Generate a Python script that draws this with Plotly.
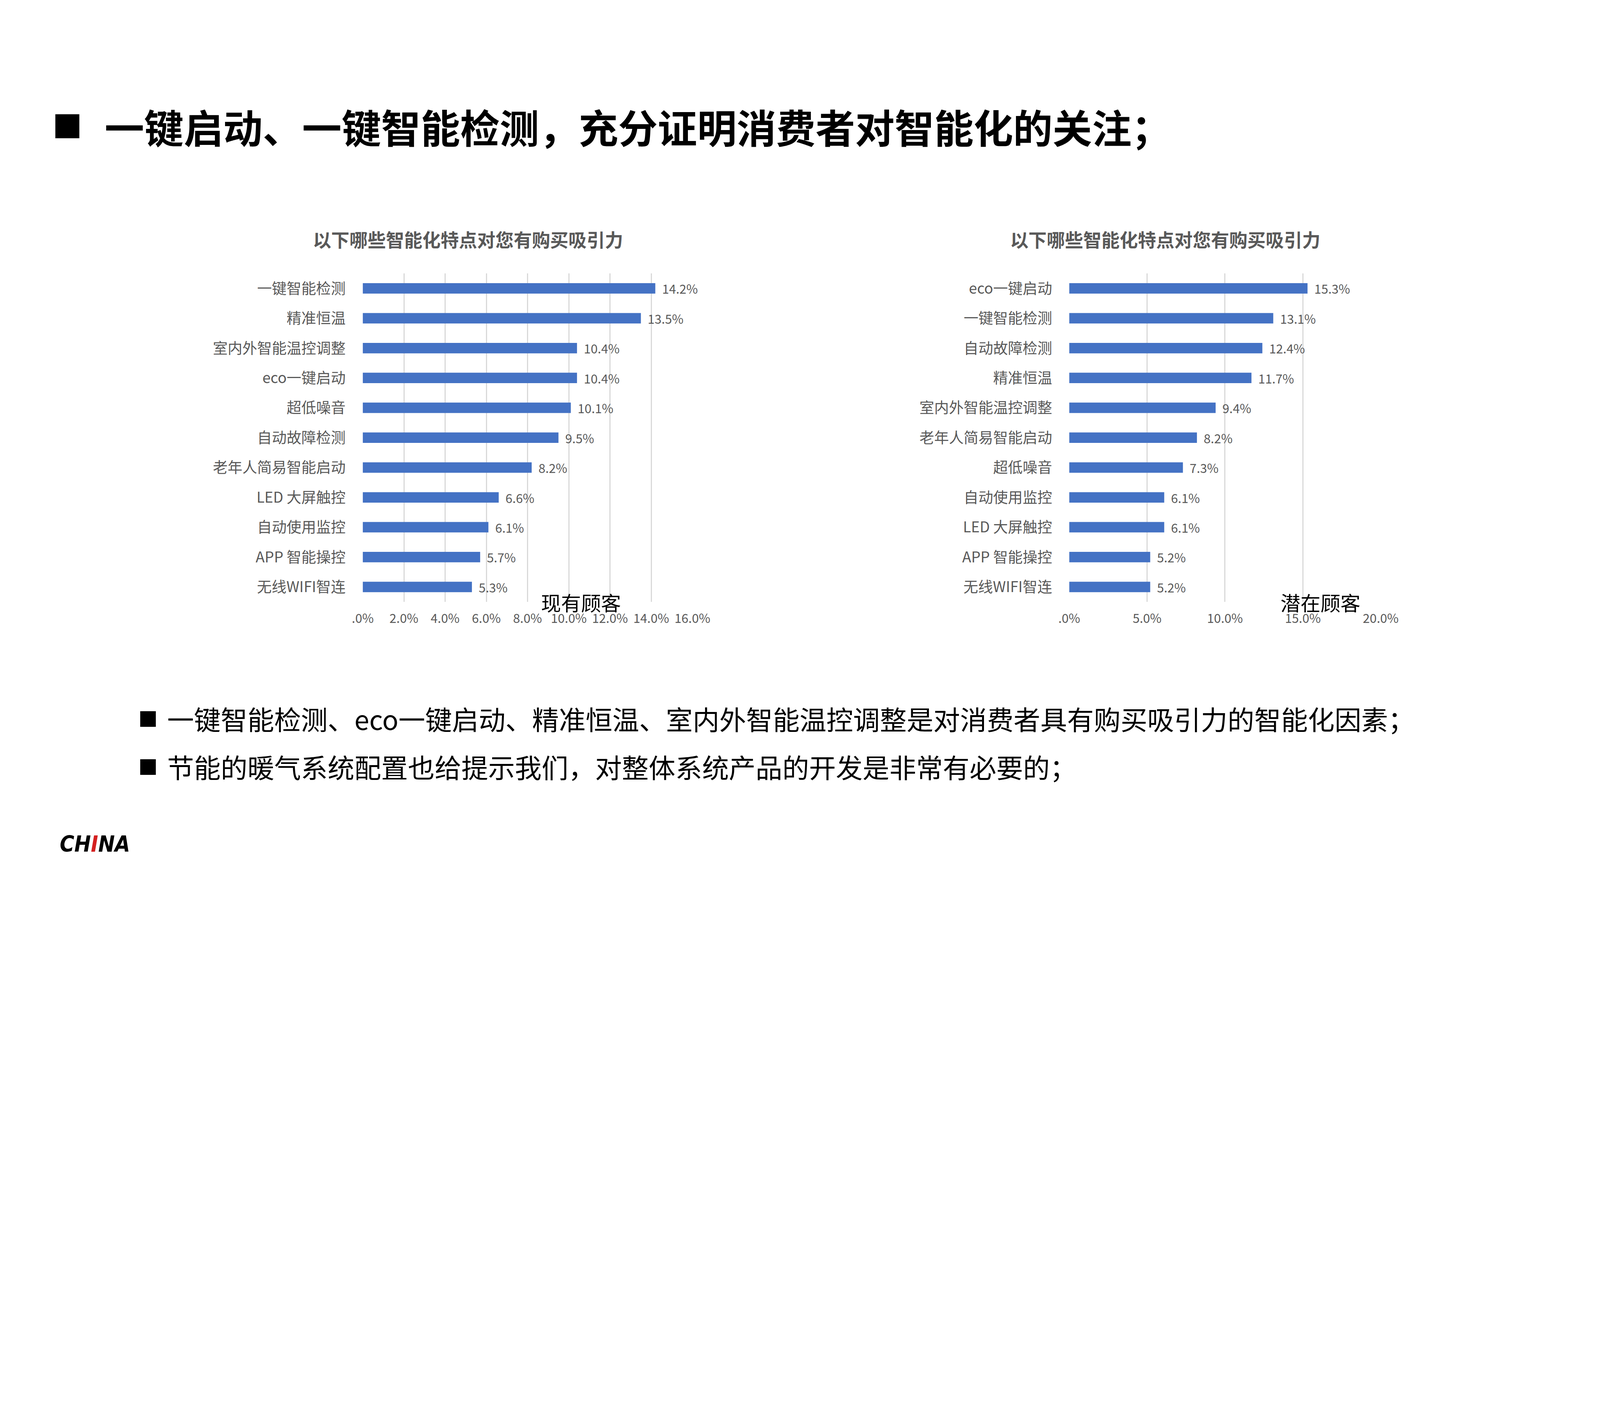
import plotly.graph_objects as go

# ---------------- data ----------------
left_categories = ["一键智能检测", "精准恒温", "室内外智能温控调整", "eco一键启动", "超低噪音",
                   "自动故障检测", "老年人简易智能启动", "LED 大屏触控", "自动使用监控",
                   "APP 智能操控", "无线WIFI智连"]
left_values = [0.142, 0.135, 0.104, 0.104, 0.101, 0.095, 0.082, 0.066, 0.061, 0.057, 0.053]
left_tickvals = [0, 0.02, 0.04, 0.06, 0.08, 0.10, 0.12, 0.14, 0.16]
left_ticktext = [".0%", "2.0%", "4.0%", "6.0%", "8.0%", "10.0%", "12.0%", "14.0%", "16.0%"]

right_categories = ["eco一键启动", "一键智能检测", "自动故障检测", "精准恒温", "室内外智能温控调整",
                    "老年人简易智能启动", "超低噪音", "自动使用监控", "LED 大屏触控",
                    "APP 智能操控", "无线WIFI智连"]
right_values = [0.153, 0.131, 0.124, 0.117, 0.094, 0.082, 0.073, 0.061, 0.061, 0.052, 0.052]
right_tickvals = [0, 0.05, 0.10, 0.15, 0.20]
right_ticktext = [".0%", "5.0%", "10.0%", "15.0%", "20.0%"]

chart_title = "以下哪些智能化特点对您有购买吸引力"
left_caption = "现有顾客"
right_caption = "潜在顾客"
main_title = "一键启动、一键智能检测，充分证明消费者对智能化的关注；"
bullet_1 = "一键智能检测、eco一键启动、精准恒温、室内外智能温控调整是对消费者具有购买吸引力的智能化因素；"
bullet_2 = "节能的暖气系统配置也给提示我们，对整体系统产品的开发是非常有必要的；"

# ---------------- layout helpers ----------------
W, H = 6400, 3600          # reference pixel space
S = 0.64                   # CSS px per reference px
FONT = "Noto Sans CJK SC"
GRAY = "#595959"
BLUE = "#4472C4"


def px(x):
    return x / W


def py(y):
    return 1 - y / H


def f(s):
    return s * S


fig = go.Figure()

for vals, cats, xa, ya in [(left_values, left_categories, "x", "y"),
                           (right_values, right_categories, "x2", "y2")]:
    fig.add_trace(go.Bar(
        x=vals, y=cats, orientation="h",
        marker=dict(color=BLUE, line=dict(width=0)),
        width=0.35,
        text=[f"\u00a0\u00a0{v*100:.1f}%" for v in vals],
        textposition="outside", cliponaxis=False, constraintext="none",
        textfont=dict(family=FONT, size=f(50), color=GRAY),
        xaxis=xa, yaxis=ya, showlegend=False, hoverinfo="skip",
    ))

xaxis_common = dict(
    showgrid=True, gridcolor="#D9D9D9", gridwidth=f(4), zeroline=False,
    showline=False, ticks="outside", ticklen=f(22), tickcolor="rgba(0,0,0,0)",
    tickfont=dict(family=FONT, size=f(50), color=GRAY), fixedrange=True,
)
yaxis_common = dict(
    showgrid=False, zeroline=False, showline=False, autorange="reversed",
    ticks="outside", ticklen=f(55), tickcolor="rgba(0,0,0,0)",
    tickfont=dict(family=FONT, size=f(59), color=GRAY), type="category",
    fixedrange=True,
)

fig.update_layout(
    width=W * S, height=H * S,
    margin=dict(l=0, r=0, t=0, b=0),
    paper_bgcolor="white", plot_bgcolor="white",
    xaxis=dict(domain=[px(1433), px(2776)], range=[0, 0.16],
               tickvals=left_tickvals, ticktext=left_ticktext, anchor="y", **xaxis_common),
    yaxis=dict(domain=[py(2408), py(1094)], anchor="x", **yaxis_common),
    xaxis2=dict(domain=[px(4311), px(5580)], range=[0, 0.20],
                tickvals=right_tickvals, ticktext=right_ticktext, anchor="y2", **xaxis_common),
    yaxis2=dict(domain=[py(2408), py(1094)], anchor="x2", **yaxis_common),
    font=dict(family=FONT),
)


def ann(x, y, text, size, color="black", anchor="center", weight="normal", family=FONT):
    return dict(x=px(x), y=py(y), xref="paper", yref="paper", text=text,
                font=dict(family=family, size=f(size), color=color, weight=weight),
                xanchor=anchor, yanchor="middle", showarrow=False)


annotations = [
    ann(230, 500, "■", 120),
    ann(378, 505, main_title, 158, weight="bold", anchor="left"),
    ann(1861, 955, chart_title, 73, color=GRAY, weight="bold"),
    ann(4702, 955, chart_title, 73, color=GRAY, weight="bold"),
    ann(2323, 2410, left_caption, 80),
    ann(5335, 2410, right_caption, 80),
    ann(558, 2872, "■", 78),
    ann(634, 2874, bullet_1, 107, anchor="left"),
    ann(558, 3064, "■", 78),
    ann(634, 3066, bullet_2, 107, anchor="left"),
    ann(196, 3378, "<b><i>CH<span style='color:#D42020'>I</span>NA</i></b>", 88,
        anchor="left", family="DejaVu Sans Condensed"),
]
fig.update_layout(annotations=annotations)

fig.write_html("out.html", config={"displayModeBar": False},
               post_script="document.body.style.margin='0';")
